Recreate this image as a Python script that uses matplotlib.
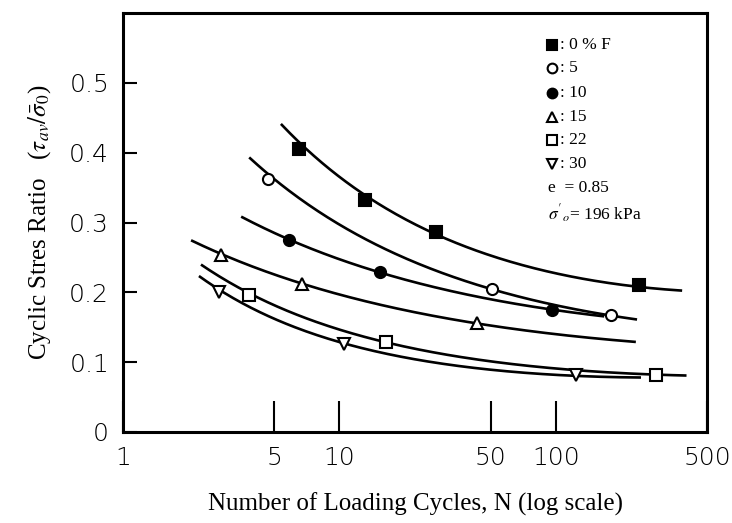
import numpy as np
import matplotlib
matplotlib.use('Agg')
import matplotlib.pyplot as plt

plt.rcParams['mathtext.fontset'] = 'stix'

# fines content labels and test points (N, tau_av / sigma_0)
fines = ['0 % F', '5', '10', '15', '22', '30']
markers = ['s', 'o', 'o', '^', 's', 'v']
filled = [True, False, True, False, False, False]

n_pts = [
    [6.5, 13.1, 27.9, 242],
    [4.69, 50.9, 179],
    [5.84, 15.4, 95.9],
    [2.84, 6.72, 43.1],
    [3.83, 16.5, 291],
    [2.78, 10.5, 124],
]
csr_pts = [
    [0.406, 0.332, 0.287, 0.211],
    [0.362, 0.205, 0.167],
    [0.275, 0.229, 0.175],
    [0.254, 0.212, 0.156],
    [0.196, 0.129, 0.082],
    [0.200, 0.126, 0.082],
]
# ends of the hand-drawn trend curves
curve_start = [(5.42, 0.453), (3.87, 0.399), (3.56, 0.308), (2.09, 0.275), (2.32, 0.241), (2.27, 0.227)]
curve_end = [(378, 0.200), (234, 0.161), (165, 0.166), (231, 0.129), (396, 0.081), (244, 0.077)]

xticks = [1, 5, 10, 50, 100, 500]
yticks = [0, 0.1, 0.2, 0.3, 0.4, 0.5]

fig = plt.figure(figsize=(7.32, 5.23), dpi=100)
ax = fig.add_axes([0.168, 0.174, 0.798, 0.801])

for i in range(len(fines)):
    xs = np.array([curve_start[i][0]] + n_pts[i] + [curve_end[i][0]])
    ys = np.array([curve_start[i][1]] + csr_pts[i] + [curve_end[i][1]])
    c = np.polyfit(np.log10(xs), np.log10(ys), 2)
    lx = np.linspace(np.log10(xs[0]), np.log10(xs[-1]), 200)
    ax.plot(10**lx, 10**np.polyval(c, lx), color='k', lw=1.9, zorder=2)
    ax.plot(n_pts[i], csr_pts[i], linestyle='none', marker=markers[i], ms=8,
            mec='k', mew=1.5, mfc='k' if filled[i] else 'white', zorder=3)

ax.set_xscale('log')
ax.set_xlim(1, 500)
ax.set_ylim(0, 0.6)
ax.set_xticks(xticks)
ax.set_xticklabels([str(t) for t in xticks])
ax.minorticks_off()
ax.set_yticks(yticks)
ax.set_yticklabels(['0', '0.1', '0.2', '0.3', '0.4', '0.5'])
ax.tick_params(axis='x', direction='in', length=22, width=1.5, pad=10,
               labelsize=18)
ax.tick_params(axis='y', direction='in', length=10, width=1.5, pad=10,
               labelsize=18)
for lab in ax.get_xticklabels() + ax.get_yticklabels():
    lab.set_family('DejaVu Sans')
    lab.set_fontweight('light')
for s in ax.spines.values():
    s.set_linewidth(2.2)

ax.set_xlabel('Number of Loading Cycles, N (log scale)', family='Liberation Serif',
              fontsize=18, labelpad=16)
ax.set_ylabel(r'Cyclic Stres Ratio   ($\tau_{av}/\bar{\sigma}_0$)',
              family='Liberation Serif', fontsize=18, labelpad=12)

# key in the upper right corner
rows_y = [0.924, 0.868, 0.810, 0.751, 0.697, 0.640]
for i in range(len(fines)):
    ax.plot([0.735], [rows_y[i]], marker=markers[i], ms=7, mec='k', mew=1.5,
            mfc='k' if filled[i] else 'white', transform=ax.transAxes, clip_on=False)
    ax.text(0.748, rows_y[i], ': ' + fines[i], transform=ax.transAxes,
            family='Liberation Serif', fontsize=12.5, va='center')
ax.text(0.728, 0.582, 'e  = 0.85', transform=ax.transAxes,
        family='Liberation Serif', fontsize=12.5, va='center')
ax.text(0.728, 0.522, r"$\sigma'_{o}$= 196 kPa", transform=ax.transAxes,
        family='Liberation Serif', fontsize=12.5, va='center')

plt.savefig('out.png', dpi=100)
